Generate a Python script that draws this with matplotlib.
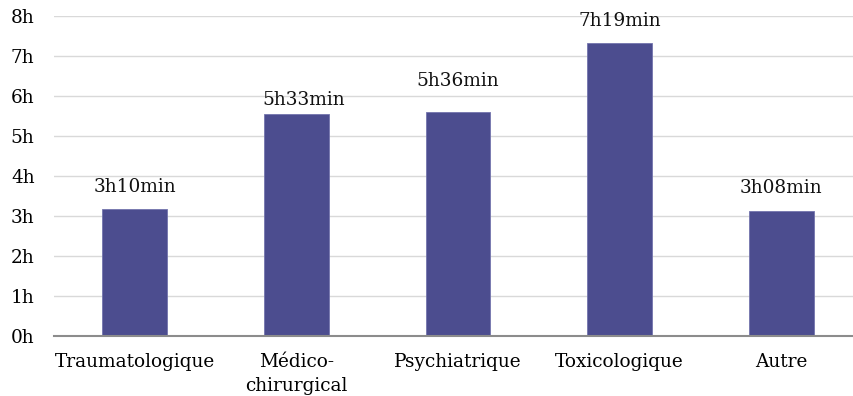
import matplotlib.pyplot as plt
from matplotlib.ticker import FuncFormatter

categories = ["Traumatologique", "Médico-\nchirurgical", "Psychiatrique", "Toxicologique", "Autre"]
hours = [3, 5, 5, 7, 3]
minutes = [10, 33, 36, 19, 8]

durations = [h + m / 60 for h, m in zip(hours, minutes)]
value_labels = [f"{h}h{m:02d}min" for h, m in zip(hours, minutes)]

# hand-placed label tweaks (points), as in the original workbook
label_nudge = {1: (5, -6), 2: (0, 6)}

plt.rcParams['font.family'] = ['DejaVu Serif']
FS = 13.3

fig = plt.figure(figsize=(8.54, 3.96), dpi=100)
ax = fig.add_axes([54 / 854, 60 / 396, 1 - 54 / 854, 320 / 396])

x = range(len(categories))
bars = ax.bar(x, durations, width=0.4, color='#4c4d8f', edgecolor='#7374ad', linewidth=0.6, zorder=3)

for i, (bar, lab) in enumerate(zip(bars, value_labels)):
    dx, dy = label_nudge.get(i, (0, 0))
    ax.annotate(lab, (bar.get_x() + bar.get_width() / 2, bar.get_height()),
                xytext=(dx, 16 + dy), textcoords='offset points',
                ha='center', va='center', fontsize=FS, color='#111111')

ax.set_ylim(0, 8)
ax.set_xlim(-0.5, 4.45)
ax.set_yticks(range(0, 9))
ax.yaxis.set_major_formatter(FuncFormatter(lambda v, pos: f"{int(v)}h"))
ax.set_xticks(list(x))
ax.set_xticklabels(categories, fontsize=FS, linespacing=1.45)
ax.tick_params(axis='y', length=0, pad=14, labelsize=FS)
ax.tick_params(axis='x', length=0, pad=12)

ax.grid(axis='y', color='#d9d9d9', linewidth=1.0, zorder=0)
for side in ('top', 'right', 'left'):
    ax.spines[side].set_visible(False)
ax.spines['bottom'].set_color('#8c8c8c')
ax.spines['bottom'].set_linewidth(1.5)
ax.spines['bottom'].set_zorder(4)

fig.savefig('out.png', dpi=100)
